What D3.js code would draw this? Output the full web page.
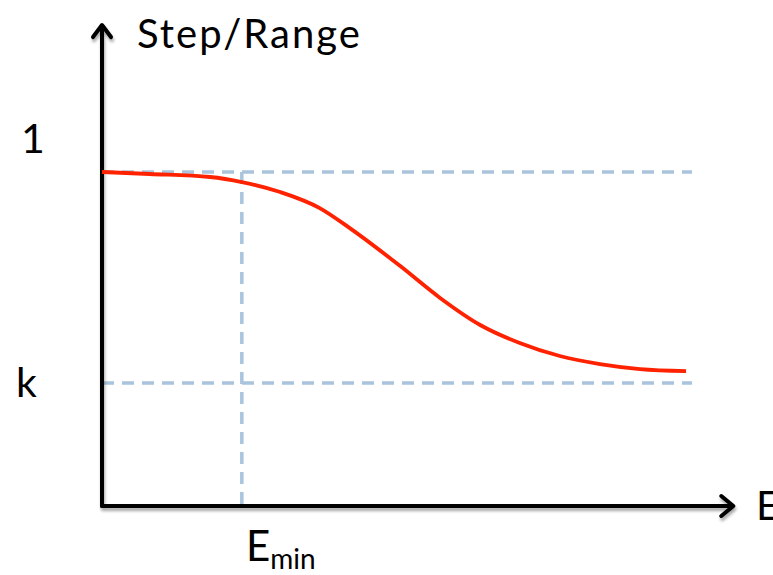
<!DOCTYPE html>
<html><head><meta charset="utf-8">
<script src="https://cdn.jsdelivr.net/npm/d3@7"></script>
<style>body{margin:0;background:#fff}svg{display:block}text{font-family:"Lato","Open Sans",sans-serif;fill:#000}</style>
</head><body><svg id="c" width="773" height="575"></svg>
<script>
const curveX = [0, 0.081, 0.183, 0.237, 0.302, 0.369, 0.420, 0.505, 0.573, 0.641, 0.708, 0.776, 0.844, 0.912, 0.990];
const curveY = [1.0, 0.994, 0.985, 0.970, 0.940, 0.892, 0.832, 0.719, 0.623, 0.542, 0.488, 0.449, 0.425, 0.410, 0.404];
const levelOne = 1.0, levelK = 0.368, eMin = 0.237;
const yLabels = ["1", "k"];
const xAxisMax = 1.07, yAxisMax = 1.44;

const svg = d3.select("#c");
const x = d3.scaleLinear().domain([0, 1]).range([102, 692]);
const y = d3.scaleLinear().domain([0, 1]).range([506, 172]);

const defs = svg.append("defs");
const f = defs.append("filter").attr("id","sh").attr("x","-10%").attr("y","-10%").attr("width","130%").attr("height","130%");
f.append("feGaussianBlur").attr("in","SourceAlpha").attr("stdDeviation",1.5).attr("result","b");
f.append("feOffset").attr("in","b").attr("dx",1).attr("dy",3).attr("result","o");
f.append("feComponentTransfer").attr("in","o").attr("result","o2").append("feFuncA").attr("type","linear").attr("slope",0.35);
const m = f.append("feMerge"); m.append("feMergeNode").attr("in","o2"); m.append("feMergeNode").attr("in","SourceGraphic");

const dash = {stroke:"#a9c4dc","stroke-width":3.5,"stroke-dasharray":"12,8"};
function dline(x1,y1,x2,y2){const l=svg.append("line").attr("x1",x1).attr("y1",y1).attr("x2",x2).attr("y2",y2);Object.entries(dash).forEach(([k,v])=>l.attr(k,v));}
dline(x(0), y(levelOne), x(1), y(levelOne));
dline(x(0), y(levelK), x(1), y(levelK));
dline(x(eMin), y(levelOne), x(eMin), y(0));

// axes
const ax = svg.append("g").attr("filter","url(#sh)").attr("stroke","#000").attr("stroke-width",4).attr("fill","none").attr("stroke-linecap","round").attr("stroke-linejoin","round");
ax.append("line").attr("x1",x(0)).attr("y1",y(0)).attr("x2",x(0)).attr("y2",y(yAxisMax)+2);
ax.append("line").attr("x1",x(0)).attr("y1",y(0)).attr("x2",x(xAxisMax)-2).attr("y2",y(0));
ax.append("path").attr("d",`M${x(0)-9},${y(yAxisMax)+12}L${x(0)},${y(yAxisMax)}L${x(0)+9},${y(yAxisMax)+12}`);
ax.append("path").attr("d",`M${x(xAxisMax)-12},${y(0)-10}L${x(xAxisMax)},${y(0)}L${x(xAxisMax)-12},${y(0)+10}`);

// curve
svg.append("path").datum(curveX.map((d,i)=>[d,curveY[i]]))
  .attr("d", d3.line().x(d=>x(d[0])).y(d=>y(d[1])).curve(d3.curveMonotoneX))
  .attr("fill","none").attr("stroke","#ff2200").attr("stroke-width",3.8);

// labels
svg.append("text").attr("x",137).attr("y",48).attr("font-size",40).attr("letter-spacing",2).text("Step/Range");
svg.append("text").attr("x",21).attr("y",153).attr("font-size",41).text(yLabels[0]);
svg.append("text").attr("x",16).attr("y",397).attr("font-size",41).text(yLabels[1]);
svg.append("text").attr("x",756).attr("y",520).attr("font-size",41).text("E");
const em = svg.append("text").attr("x",246).attr("y",561).attr("font-size",42);
em.append("tspan").text("E");
em.append("tspan").attr("font-size",28).attr("dy",8).text("min");
</script></body></html>
